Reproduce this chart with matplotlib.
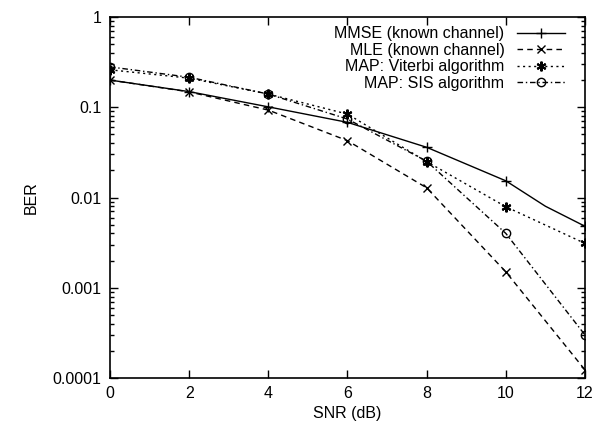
import matplotlib
matplotlib.use('Agg')
import matplotlib.pyplot as plt
from matplotlib.ticker import FixedLocator, FixedFormatter, LogLocator, NullFormatter

plt.rcParams['font.family'] = ['Liberation Sans', 'DejaVu Sans']

# SNR points (dB)
snr = [0, 2, 4, 6, 8, 10, 12]
snr_mmse = [0, 2, 4, 6, 8, 10, 11, 12]

# BER values
ber_mmse = [0.2, 0.149, 0.101, 0.068, 0.036, 0.0153, 0.0080, 0.0048]
ber_mle = [0.2, 0.148, 0.093, 0.0426, 0.0128, 0.0015, 0.000123]
ber_viterbi = [0.26, 0.21, 0.14, 0.084, 0.025, 0.0079, 0.0031]
ber_sis = [0.28, 0.215, 0.14, 0.074, 0.0252, 0.0040, 0.0003]

labels = ["MMSE (known channel)", "MLE (known channel)",
          "MAP: Viterbi algorithm", "MAP: SIS algorithm"]

yticks = [0.0001, 0.001, 0.01, 0.1, 1]
ytick_labels = ["0.0001", "0.001", "0.01", "0.1", "1"]

fig = plt.figure(figsize=(6, 4.28), dpi=100)
ax = fig.add_axes([0.1833, 0.1168, 0.7917, 0.8435])

ax.plot(snr_mmse, ber_mmse, color='black', lw=1.0, ls='-', marker='+', ms=7,
        mew=1.0, markevery=[0, 1, 2, 3, 4, 5, 7], label=labels[0])
ax.plot(snr, ber_mle, color='black', lw=1.0, ls=(0, (4, 3)), marker='x', ms=6,
        mew=1.0, label=labels[1])
ax.plot(snr, ber_viterbi, color='black', lw=1.0, ls=(0, (1.5, 2.5)), marker=(6, 2, 0),
        ms=7, mew=1.5, label=labels[2])
ax.plot(snr, ber_sis, color='black', lw=1.0, ls=(0, (4, 2, 1, 2)), marker='o', ms=6,
        mfc='none', mew=1.0, label=labels[3])

ax.set_yscale('log')
ax.set_xlim(0, 12)
ax.set_ylim(0.0001, 1)
ax.set_xticks([0, 2, 4, 6, 8, 10, 12])
ax.yaxis.set_major_locator(FixedLocator(yticks))
ax.yaxis.set_major_formatter(FixedFormatter(ytick_labels))
ax.yaxis.set_minor_locator(LogLocator(base=10, subs=range(2, 10)))
ax.yaxis.set_minor_formatter(NullFormatter())

ax.tick_params(which='both', direction='in', top=True, right=True, labelsize=11.5,
               width=1.0)
ax.tick_params(which='major', length=6, pad=6)
ax.tick_params(which='minor', length=3)
for s in ax.spines.values():
    s.set_linewidth(1.2)

ax.set_xlabel("SNR (dB)", fontsize=11.5, labelpad=3)
ax.set_ylabel("BER", fontsize=11.5, labelpad=10)

leg = ax.legend(loc='upper right', frameon=False, markerfirst=False, fontsize=11.5,
                handlelength=3.0, handletextpad=0.8, labelspacing=0.1,
                borderaxespad=0.4, bbox_to_anchor=(0.985, 1.01))

plt.savefig('out.png', dpi=100)
